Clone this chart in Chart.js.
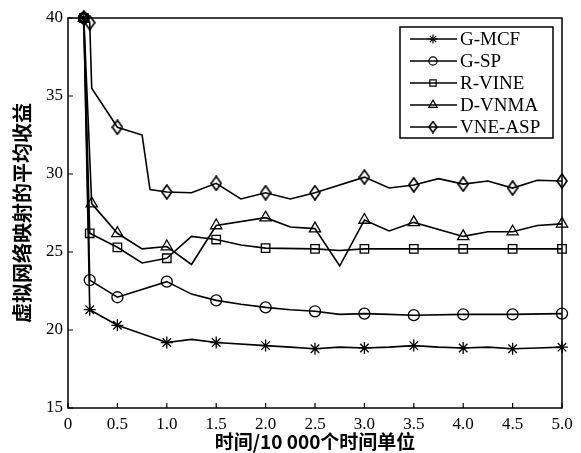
<!DOCTYPE html>
<html lang="zh">
<head>
    <meta charset="UTF-8">
    <title>虚拟网络映射的平均收益</title>
    <script src="https://cdn.jsdelivr.net/npm/chart.js"></script>
    <style>
        body { margin: 0; background: #fff; }
        #wrap { width: 581px; height: 453px; }
    </style>
</head>
<body>
    <div id="wrap"><canvas id="revenueChart"></canvas></div>
    <script>
        // time (x 10 000 units) and average revenue for each algorithm
        const gmcfTime = [0.16, 0.22, 0.5, 1.0, 1.25, 1.5, 2.0, 2.25, 2.5, 2.75, 3.0, 3.25, 3.5, 3.75, 4.0, 4.25, 4.5, 4.75, 5.0];
        const gmcfRev  = [40, 21.3, 20.3, 19.2, 19.4, 19.2, 19.0, 18.9, 18.8, 18.9, 18.85, 18.9, 19.0, 18.9, 18.85, 18.9, 18.8, 18.85, 18.9];

        const gspTime = [0.16, 0.22, 0.5, 1.0, 1.25, 1.5, 1.75, 2.0, 2.25, 2.5, 2.75, 3.0, 3.25, 3.5, 4.0, 4.5, 5.0];
        const gspRev  = [40, 23.2, 22.1, 23.1, 22.3, 21.9, 21.65, 21.45, 21.3, 21.2, 21.0, 21.05, 21.0, 20.95, 21.0, 21.0, 21.05];

        const rvineTime = [0.16, 0.22, 0.5, 0.75, 1.0, 1.25, 1.5, 1.75, 2.0, 2.5, 2.75, 3.0, 3.5, 4.0, 4.5, 5.0];
        const rvineRev  = [40, 26.2, 25.3, 24.3, 24.6, 26.0, 25.8, 25.45, 25.25, 25.2, 25.1, 25.2, 25.2, 25.2, 25.2, 25.2];

        const dvnmaTime = [0.16, 0.24, 0.5, 0.75, 1.0, 1.25, 1.5, 2.0, 2.25, 2.5, 2.75, 3.0, 3.25, 3.5, 4.0, 4.25, 4.5, 4.75, 5.0];
        const dvnmaRev  = [40, 28.1, 26.2, 25.2, 25.35, 24.2, 26.7, 27.2, 26.6, 26.5, 24.1, 27.05, 26.35, 26.9, 26.0, 26.3, 26.3, 26.7, 26.8];

        const aspTime = [0.16, 0.22, 0.24, 0.5, 0.75, 0.83, 1.0, 1.25, 1.5, 1.75, 2.0, 2.25, 2.5, 3.0, 3.25, 3.5, 3.75, 4.0, 4.25, 4.5, 4.75, 5.0];
        const aspRev  = [40, 39.7, 35.5, 33.0, 32.5, 29.0, 28.85, 28.8, 29.4, 28.4, 28.8, 28.4, 28.8, 29.8, 29.1, 29.3, 29.7, 29.35, 29.55, 29.1, 29.6, 29.55];

        const seriesNames = ['G-MCF', 'G-SP', 'R-VINE', 'D-VNMA', 'VNE-ASP'];
        const xTicks = [0, 0.5, 1.0, 1.5, 2.0, 2.5, 3.0, 3.5, 4.0, 4.5, 5.0];
        const yTicks = [15, 20, 25, 30, 35, 40];

        const serif = '"Liberation Serif", "Times New Roman", serif';
        const cjk = '"Noto Sans CJK SC", sans-serif';

        function toPoints(xs, ys) {
            return xs.map((x, i) => ({ x: x, y: ys[i] }));
        }

        // tall hollow diamond
        function makeDiamond(w, h, lw) {
            const c = document.createElement('canvas');
            c.width = w + 2;
            c.height = h + 2;
            const g = c.getContext('2d');
            g.strokeStyle = '#000';
            g.lineWidth = lw;
            g.beginPath();
            g.moveTo(c.width / 2, 1);
            g.lineTo(c.width - 1, c.height / 2);
            g.lineTo(c.width / 2, c.height - 1);
            g.lineTo(1, c.height / 2);
            g.closePath();
            g.stroke();
            return c;
        }
        const diamond = makeDiamond(10, 14, 1.7);
        const smallDiamond = makeDiamond(8, 11, 1.6);

        // markers on the first two samples and on every half unit
        function markerRadius(r) {
            return ctx => {
                if (ctx.type !== 'data') return r;
                const x = ctx.raw.x;
                if (ctx.dataIndex < 2 || Math.abs(x * 2 - Math.round(x * 2)) < 1e-6) return r;
                return 0;
            };
        }

        const styles = [
            { pointStyle: 'star', r: 6, legend: 'star' },
            { pointStyle: 'circle', r: 5.5, legend: 'circle' },
            { pointStyle: 'rect', r: 6, legend: 'rect' },
            { pointStyle: 'triangle', r: 6.5, legend: 'triangle' },
            { pointStyle: diamond, r: 6, legend: smallDiamond }
        ];

        const series = [
            toPoints(gmcfTime, gmcfRev),
            toPoints(gspTime, gspRev),
            toPoints(rvineTime, rvineRev),
            toPoints(dvnmaTime, dvnmaRev),
            toPoints(aspTime, aspRev)
        ];

        const datasets = series.map((pts, i) => ({
            label: seriesNames[i],
            data: pts,
            borderColor: '#000',
            borderWidth: 1.6,
            backgroundColor: 'transparent',
            pointStyle: styles[i].pointStyle,
            pointRadius: markerRadius(styles[i].r),
            pointBorderWidth: 1.3,
            pointBorderColor: '#000',
            pointBackgroundColor: 'transparent',
            legendStyle: styles[i].legend,
            legendRadius: styles[i].r,
            tension: 0,
            clip: false
        }));

        // axes box with inward ticks
        const frame = {
            id: 'frame',
            afterDraw(chart) {
                const { ctx, chartArea: a, scales } = chart;
                ctx.save();
                ctx.strokeStyle = '#000';
                ctx.lineWidth = 1.5;
                ctx.strokeRect(a.left, a.top, a.right - a.left, a.bottom - a.top);
                ctx.lineWidth = 1.2;
                ctx.beginPath();
                xTicks.forEach(v => {
                    const px = scales.x.getPixelForValue(v);
                    ctx.moveTo(px, a.bottom);
                    ctx.lineTo(px, a.bottom - 5);
                });
                yTicks.forEach(v => {
                    const py = scales.y.getPixelForValue(v);
                    ctx.moveTo(a.left, py);
                    ctx.lineTo(a.left + 5, py);
                });
                ctx.stroke();
                ctx.restore();
            }
        };

        // boxed legend in the upper right corner, line through marker
        const boxLegend = {
            id: 'boxLegend',
            afterDraw(chart) {
                const { ctx, chartArea: a } = chart;
                const left = a.right - 162, top = a.top + 9, w = 153, h = 111;
                ctx.save();
                ctx.fillStyle = '#fff';
                ctx.fillRect(left, top, w, h);
                ctx.strokeStyle = '#000';
                ctx.lineWidth = 1.5;
                ctx.strokeRect(left, top, w, h);
                ctx.font = '19px ' + serif;
                ctx.textBaseline = 'middle';
                chart.data.datasets.forEach((ds, i) => {
                    const y = top + 12 + i * 22;
                    ctx.strokeStyle = '#000';
                    ctx.lineWidth = 1.6;
                    ctx.beginPath();
                    ctx.moveTo(left + 10, y);
                    ctx.lineTo(left + 57, y);
                    ctx.stroke();
                    ctx.lineWidth = 1.2;
                    ctx.fillStyle = 'rgba(0,0,0,0)';
                    Chart.helpers.drawPoint(ctx, {
                        pointStyle: ds.legendStyle,
                        radius: ds.legendRadius * 0.75,
                        rotation: 0,
                        borderWidth: 1.2
                    }, left + 33, y);
                    ctx.fillStyle = '#000';
                    ctx.fillText(ds.label, left + 60, y + 1);
                });
                ctx.restore();
            }
        };

        new Chart(document.getElementById('revenueChart'), {
            type: 'line',
            data: { datasets: datasets },
            plugins: [frame, boxLegend],
            options: {
                responsive: true,
                maintainAspectRatio: false,
                animation: false,
                layout: { padding: { left: 0, right: 19, top: 18, bottom: 0 } },
                plugins: {
                    legend: { display: false },
                    tooltip: { enabled: false }
                },
                scales: {
                    x: {
                        type: 'linear',
                        min: 0,
                        max: 5,
                        afterBuildTicks: s => { s.ticks = xTicks.map(v => ({ value: v })); },
                        afterFit: s => { s.height = 45; },
                        grid: { display: false, drawTicks: false },
                        border: { display: false },
                        ticks: {
                            color: '#000',
                            padding: 6,
                            maxRotation: 0,
                            font: { family: serif, size: 17 },
                            callback: v => v === 0 ? '0' : v.toFixed(1)
                        },
                        title: {
                            display: true,
                            text: '时间/10 000个时间单位',
                            color: '#000',
                            padding: { top: 0, bottom: 0 },
                            font: { family: cjk, size: 19, weight: 'bold' }
                        }
                    },
                    y: {
                        min: 15,
                        max: 40,
                        afterBuildTicks: s => { s.ticks = yTicks.map(v => ({ value: v })); },
                        afterFit: s => { s.width = 68; },
                        grid: { display: false, drawTicks: false },
                        border: { display: false },
                        ticks: {
                            color: '#000',
                            padding: 5,
                            font: { family: serif, size: 17 }
                        },
                        title: {
                            display: true,
                            text: '虚拟网络映射的平均收益',
                            color: '#000',
                            padding: { top: 10, bottom: 0 },
                            font: { family: cjk, size: 20, weight: 'bold' }
                        }
                    }
                }
            }
        });
    </script>
</body>
</html>
